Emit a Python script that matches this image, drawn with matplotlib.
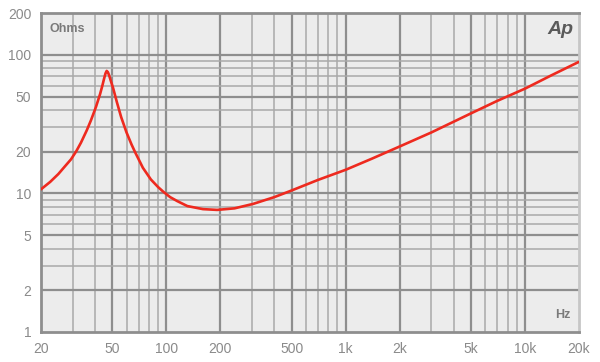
import matplotlib
matplotlib.use('Agg')
from matplotlib import pyplot as plt
import matplotlib.ticker as ticker

# 频率 (Hz) 和阻抗 (Ohms)
freq = [20, 22.5, 25, 27, 29.4, 31.5, 33.4, 36, 38, 40.5, 42.7, 44, 45, 45.8, 46.5, 47.2, 48, 49,
        50.5, 53, 56, 60, 64, 67, 74, 82, 90, 96, 105, 115, 131, 160, 192, 240, 305, 400, 500,
        700, 1000, 1400, 2000, 3000, 5000, 7000, 10000, 14000, 20000]
impedance = [10.7, 12.1, 13.8, 15.5, 17.6, 20.2, 23.2, 28.5, 33.7, 42, 52, 60, 67.5, 73.5, 76.5, 75, 71, 65,
             57.5, 45.5, 35.5, 27.5, 22.5, 19.8, 15.3, 12.6, 11.1, 10.3, 9.4, 8.8, 8.1, 7.7, 7.6, 7.8,
             8.4, 9.4, 10.5, 12.5, 14.8, 17.8, 21.8, 27.5, 37.8, 46.5, 57, 71, 89]

x_ticks = [20, 50, 100, 200, 500, 1000, 2000, 5000, 10000, 20000]
x_labels = ['20', '50', '100', '200', '500', '1k', '2k', '5k', '10k', '20k']
y_ticks = [1, 2, 5, 10, 20, 50, 100, 200]
y_labels = ['1', '2', '5', '10', '20', '50', '100', '200']

plt.rcParams['font.family'] = ['Liberation Sans', 'DejaVu Sans']

fig = plt.figure(figsize=(6, 3.62), dpi=100)
ax = fig.add_axes([0.0683, 0.0829, 0.8967, 0.881])
ax.set_facecolor('#ececec')
ax.set_xscale('log')
ax.set_yscale('log')
ax.set_xlim(20, 20000)
ax.set_ylim(1, 200)

# 网格：1-2-5 为主线，其余为次线
minor_col = '#a9a9a9'
major_col = '#8e8e8e'
for dec in [10, 100, 1000, 10000]:
    for m in range(1, 10):
        f = dec * m
        if f <= 20 or f >= 20000:
            continue
        if m in (1, 2, 5):
            ax.axvline(f, color=major_col, lw=1.6, zorder=1)
        else:
            ax.axvline(f, color=minor_col, lw=1.1, zorder=1)
for dec in [1, 10, 100]:
    for m in range(1, 10):
        v = dec * m
        if v <= 1 or v >= 200:
            continue
        if m in (1, 2, 5):
            ax.axhline(v, color=major_col, lw=1.6, zorder=1)
        else:
            ax.axhline(v, color=minor_col, lw=1.1, zorder=1)

ax.plot(freq, impedance, color='#ee2a1f', lw=1.9, zorder=3,
        solid_capstyle='round', solid_joinstyle='round')

ax.xaxis.set_major_locator(ticker.FixedLocator(x_ticks))
ax.xaxis.set_major_formatter(ticker.FixedFormatter(x_labels))
ax.xaxis.set_minor_locator(ticker.NullLocator())
ax.yaxis.set_major_locator(ticker.FixedLocator(y_ticks))
ax.yaxis.set_major_formatter(ticker.FixedFormatter(y_labels))
ax.yaxis.set_minor_locator(ticker.NullLocator())
ax.tick_params(length=0, labelsize=10, labelcolor='#8a8a8a', pad=7)

for side in ['left', 'bottom', 'top']:
    ax.spines[side].set_color('#8e8e8e')
    ax.spines[side].set_linewidth(2)
ax.spines['right'].set_color('#c6c6c6')
ax.spines['right'].set_linewidth(2)

ax.text(0.015, 0.97, 'Ohms', transform=ax.transAxes, ha='left', va='top',
        fontsize=9, fontweight='bold', color='#7a7a7a')
ax.text(0.985, 0.035, 'Hz', transform=ax.transAxes, ha='right', va='bottom',
        fontsize=9, fontweight='bold', color='#7a7a7a')
ax.text(0.99, 0.975, 'Ap', transform=ax.transAxes, ha='right', va='top',
        fontsize=14, fontweight='bold', style='italic', color='#5a5a5a')

plt.savefig('out.png', dpi=100)
